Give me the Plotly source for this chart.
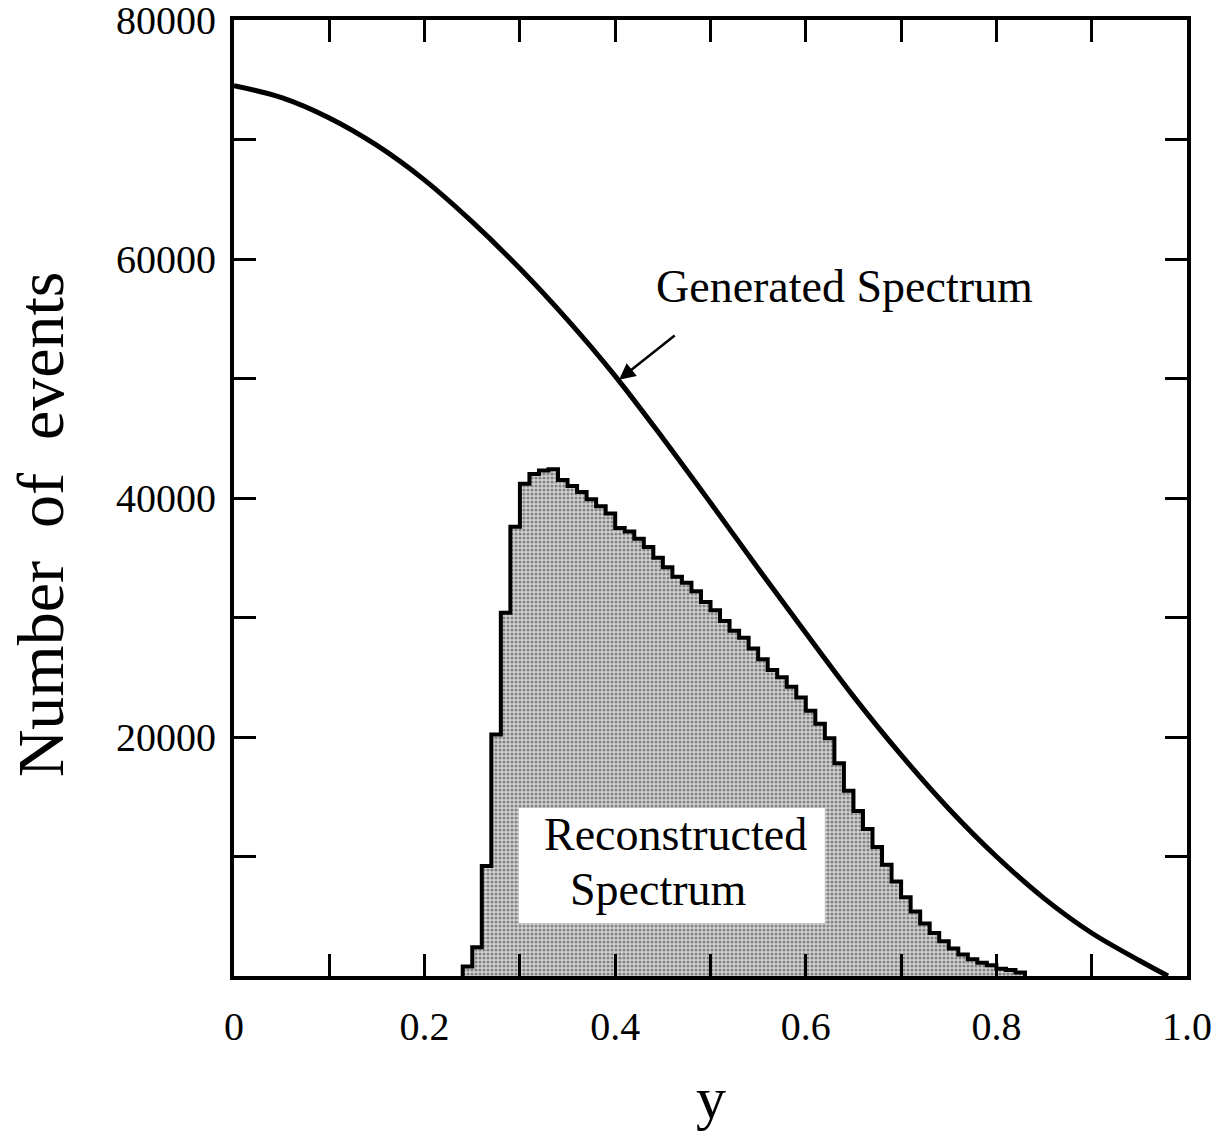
import plotly.graph_objects as go

# ── Generated spectrum (smooth curve) ─────────────────────────────────────────
gen_y = [0.00, 0.05, 0.10, 0.15, 0.20, 0.25, 0.30, 0.35, 0.40, 0.45,
         0.50, 0.55, 0.60, 0.65, 0.70, 0.75, 0.80, 0.85, 0.90, 0.95, 0.98]
gen_n = [74500, 73500, 71800, 69500, 66600, 63100, 59200, 54900, 50200, 45000,
         39600, 34100, 28700, 23400, 18500, 14000, 10000, 6500, 3600, 1300, 0]

# ── Reconstructed spectrum (histogram, bins of 0.01 from y = 0.24) ────────────
hist_start = 0.24
hist_width = 0.01
hist_counts = [
    800, 2400, 9200, 20200, 30400, 37600, 41200, 42000, 42300, 42400,   # 0.24-0.33
    41500, 41000, 40500, 39900, 39300, 38700, 37500, 37200, 36600, 35900,  # 0.34-0.43
    35000, 34200, 33400, 32900, 32200, 31300, 30600, 29700, 28900, 28300,  # 0.44-0.53
    27400, 26500, 25600, 25000, 24200, 23300, 22200, 21100, 19900, 17800,  # 0.54-0.63
    15500, 13800, 12300, 10800, 9300, 7900, 6600, 5400, 4400, 3600,        # 0.64-0.73
    2900, 2300, 1800, 1400, 1100, 900, 600, 500, 300,                      # 0.74-0.82
]

x_ticks = [0, 0.1, 0.2, 0.3, 0.4, 0.5, 0.6, 0.7, 0.8, 0.9, 1.0]
x_ticktext = ["0", "", "0.2", "", "0.4", "", "0.6", "", "0.8", "", "1.0"]
y_ticks = [10000, 20000, 30000, 40000, 50000, 60000, 70000, 80000]
y_ticktext = ["", "20000", "", "40000", "", "60000", "", "80000"]

_FONT = "Liberation Serif, Times New Roman, serif"

edges = [round(hist_start + i * hist_width, 3) for i in range(len(hist_counts) + 1)]
hx = [edges[0]] + edges + [edges[-1]]
hy = [0] + hist_counts + [hist_counts[-1], 0]

fig = go.Figure()

fig.add_trace(go.Scatter(
    x=hx, y=hy,
    mode="lines",
    line=dict(color="black", width=4, shape="hv"),
    fill="tozeroy",
    fillcolor="#b8b8b8",
    fillpattern=dict(shape=".", size=4, solidity=0.5, fgcolor="#333333", bgcolor="#d4d4d4"),
    showlegend=False,
))

fig.add_trace(go.Scatter(
    x=gen_y, y=gen_n,
    mode="lines",
    line=dict(color="black", width=5, shape="spline", smoothing=1.0),
    showlegend=False,
))

# white box behind the "Reconstructed Spectrum" label
fig.add_shape(type="rect", xref="x", yref="y",
              x0=0.299, x1=0.620, y0=4430, y1=14060,
              fillcolor="white", line=dict(width=0), layer="above")

fig.add_annotation(x=0.323, y=11800, xref="x", yref="y", text="Reconstructed",
                   showarrow=False, xanchor="left", yanchor="middle",
                   font=dict(family=_FONT, size=46, color="black"))
fig.add_annotation(x=0.350, y=7200, xref="x", yref="y", text="Spectrum",
                   showarrow=False, xanchor="left", yanchor="middle",
                   font=dict(family=_FONT, size=46, color="black"))

fig.add_annotation(x=0.641, y=57700, xref="x", yref="y", text="Generated Spectrum",
                   showarrow=False, xanchor="center", yanchor="middle",
                   font=dict(family=_FONT, size=46, color="black"))
# arrow pointing at the curve
fig.add_annotation(x=0.404, y=49900, ax=0.464, ay=53700, xref="x", yref="y",
                   axref="x", ayref="y", text="", showarrow=True,
                   arrowhead=2, arrowsize=1.3, arrowwidth=2.5, arrowcolor="black")

# axis titles
fig.add_annotation(x=0.5, y=-0.128, xref="paper", yref="paper", text="y",
                   showarrow=False, xanchor="center", yanchor="middle",
                   font=dict(family=_FONT, size=60, color="black"))
fig.add_annotation(x=-0.203, y=0.472, xref="paper", yref="paper",
                   text="Number&nbsp; of&nbsp; events", textangle=-90,
                   showarrow=False, xanchor="center", yanchor="middle",
                   font=dict(family=_FONT, size=66, color="black"))

axis_common = dict(
    showline=True, linecolor="black", linewidth=4, mirror="ticks",
    ticks="inside", ticklen=22, tickwidth=3, tickcolor="black",
    showgrid=False, zeroline=False, ticklabeloverflow="allow", automargin=False,
    tickfont=dict(family=_FONT, size=40, color="black"),
)

fig.update_xaxes(range=[0, 1.0], tickmode="array", tickvals=x_ticks,
                 ticktext=x_ticktext, ticklabelstandoff=12, **axis_common)
fig.update_yaxes(range=[0, 80000], tickmode="array", tickvals=y_ticks,
                 ticktext=y_ticktext, ticklabelstandoff=6, **axis_common)

fig.update_layout(
    width=1223, height=1131,
    margin=dict(l=234, r=36, t=20, b=155),
    plot_bgcolor="white", paper_bgcolor="white",
    font=dict(family=_FONT, color="black"),
)

# drop the default page margin so the figure fills the window exactly
fig.write_html("out.html", config={"displayModeBar": False},
               post_script="document.body.style.margin = '0px';")
